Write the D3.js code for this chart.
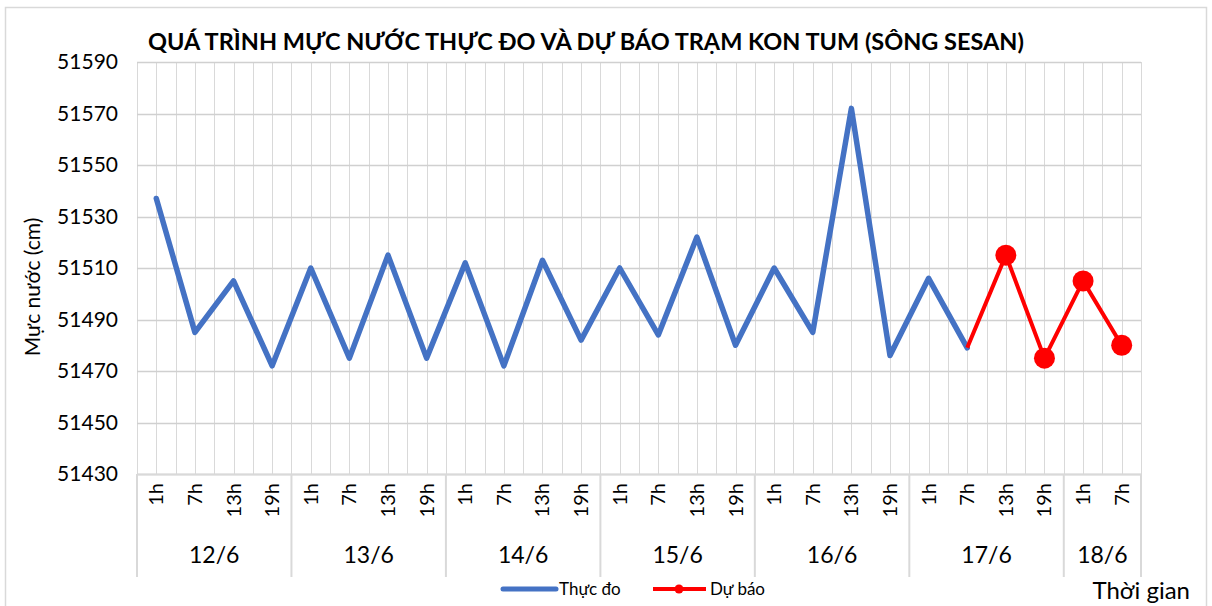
<!DOCTYPE html>
<html>
<head>
<meta charset="utf-8">
<script src="https://cdn.jsdelivr.net/npm/d3@7"></script>
<style>
  body { margin: 0; background: #fff; }
  svg text { font-family: Lato, "Noto Sans", sans-serif; fill: #000; }
</style>
</head>
<body>
<div id="chart"></div>
<script>
var w = 1212,
    h = 606;

// data
var days = ["12/6", "13/6", "14/6", "15/6", "16/6", "17/6", "18/6"];
var hours = ["1h", "7h", "13h", "19h"];
var hoursPerDay = [4, 4, 4, 4, 4, 4, 2];
var observed = [51537, 51485, 51505, 51472, 51510, 51475, 51515, 51475,
                51512, 51472, 51513, 51482, 51510, 51484, 51522, 51480,
                51510, 51485, 51572, 51476, 51506, 51479];
var forecast = [null, null, null, null, null, null, null, null,
                null, null, null, null, null, null, null, null,
                null, null, null, null, null, 51479, 51515, 51475, 51505, 51480];
var yTicks = [51430, 51450, 51470, 51490, 51510, 51530, 51550, 51570, 51590];

// category list: one entry per time slot
var cats = [];
days.forEach(function(d, i) {
  for (var j = 0; j < hoursPerDay[i]; ++j) cats.push({ day: d, hour: hours[j], key: d + " " + hours[j] });
});

var pLeft = 137, pRight = 1141, pTop = 62, pBottom = 474;

var x = d3.scaleBand()
    .domain(cats.map(function(c) { return c.key; }))
    .range([pLeft, pRight]);

var y = d3.scaleLinear()
    .domain([51430, 51590])
    .range([pBottom, pTop]);

var cx = function(i) { return x(cats[i].key) + x.bandwidth() / 2; };

var svg = d3.select("#chart").append("svg")
    .attr("width", w)
    .attr("height", h);

// outer chart border
svg.append("rect")
    .attr("x", 5.5).attr("y", 7.5)
    .attr("width", 1201).attr("height", 610)
    .attr("fill", "none").attr("stroke", "#d9d9d9").attr("stroke-width", 1.5);

// vertical gridlines (major at band edges, minor at centres)
var vx = [];
cats.forEach(function(c, i) { vx.push(x(c.key)); vx.push(cx(i)); });
vx.push(pRight);
svg.append("g").selectAll("line")
    .data(vx)
  .enter().append("line")
    .attr("x1", function(d) { return Math.round(d) + 0.5; })
    .attr("x2", function(d) { return Math.round(d) + 0.5; })
    .attr("y1", pTop).attr("y2", pBottom)
    .attr("stroke", "#d9d9d9").attr("stroke-width", 1);

// horizontal gridlines
svg.append("g").selectAll("line")
    .data(yTicks)
  .enter().append("line")
    .attr("x1", pLeft).attr("x2", pRight)
    .attr("y1", function(d) { return Math.round(y(d)) + 0.5; })
    .attr("y2", function(d) { return Math.round(y(d)) + 0.5; })
    .attr("stroke", "#d0d0d0").attr("stroke-width", 1.3);

// y axis labels
var yAxis = d3.axisLeft(y).tickValues(yTicks).tickSize(0).tickPadding(19).tickFormat(d3.format("d"));
var ga = svg.append("g").attr("transform", "translate(" + pLeft + ",0)").call(yAxis);
ga.select(".domain").remove();
ga.selectAll("text")
    .attr("font-size", 21)
    .attr("font-family", "Lato, sans-serif")
    .attr("fill", "#000");

// x axis: rotated hour labels
svg.append("g").selectAll("text")
    .data(cats)
  .enter().append("text")
    .attr("transform", function(d, i) { return "translate(" + (cx(i) + 7) + ",483)rotate(-90)"; })
    .attr("text-anchor", "end")
    .attr("font-size", 20)
    .text(function(d) { return d.hour; });

// day group separators and labels
var starts = [0];
hoursPerDay.forEach(function(n, i) { starts.push(starts[i] + n); });
svg.append("g").selectAll("line")
    .data(starts)
  .enter().append("line")
    .attr("x1", function(d) { return d < cats.length ? x(cats[d].key) : pRight; })
    .attr("x2", function(d) { return d < cats.length ? x(cats[d].key) : pRight; })
    .attr("y1", pBottom).attr("y2", 577)
    .attr("stroke", "#d9d9d9").attr("stroke-width", 2);

svg.append("line")
    .attr("x1", pLeft).attr("x2", pRight)
    .attr("y1", pBottom + 0.5).attr("y2", pBottom + 0.5)
    .attr("stroke", "#d9d9d9").attr("stroke-width", 2);

svg.append("g").selectAll("text")
    .data(days)
  .enter().append("text")
    .attr("x", function(d, i) {
      var a = x(cats[starts[i]].key), b = starts[i + 1] < cats.length ? x(cats[starts[i + 1]].key) : pRight;
      return (a + b) / 2;
    })
    .attr("y", 563)
    .attr("text-anchor", "middle")
    .attr("font-size", 23)
    .text(function(d) { return d; });

// lines
var line = d3.line()
    .defined(function(d) { return d != null; })
    .x(function(d, i) { return cx(i); })
    .y(function(d) { return y(d); });

svg.append("path")
    .datum(observed)
    .attr("d", line)
    .attr("fill", "none")
    .attr("stroke", "#4472C4")
    .attr("stroke-width", 5.5)
    .attr("stroke-linejoin", "round")
    .attr("stroke-linecap", "round");

svg.append("path")
    .datum(forecast)
    .attr("d", line)
    .attr("fill", "none")
    .attr("stroke", "#FF0000")
    .attr("stroke-width", 4)
    .attr("stroke-linejoin", "round");

svg.append("g").selectAll("circle")
    .data(forecast.map(function(v, i) { return { v: v, i: i }; })
      .filter(function(d) { return d.v != null && d.i > 21; }))
  .enter().append("circle")
    .attr("cx", function(d) { return cx(d.i); })
    .attr("cy", function(d) { return y(d.v); })
    .attr("r", 10.5)
    .attr("fill", "#FF0000");

// title
svg.append("text")
    .attr("x", 586).attr("y", 50)
    .attr("text-anchor", "middle")
    .attr("font-size", 23.5)
    .attr("font-weight", "bold")
    .text("QUÁ TRÌNH MỰC NƯỚC THỰC ĐO VÀ DỰ BÁO TRẠM KON TUM (SÔNG SESAN)");

// y axis title
svg.append("text")
    .attr("transform", "translate(40,287)rotate(-90)")
    .attr("text-anchor", "middle")
    .attr("font-size", 21)
    .text("Mực nước (cm)");

// x axis title
svg.append("text")
    .attr("x", 1190).attr("y", 599)
    .attr("text-anchor", "end")
    .attr("font-size", 24)
    .text("Thời gian");

// legend
var legend = svg.append("g").attr("transform", "translate(0,589)");
legend.append("line")
    .attr("x1", 503).attr("x2", 556).attr("y1", 0).attr("y2", 0)
    .attr("stroke", "#4472C4").attr("stroke-width", 5).attr("stroke-linecap", "round");
legend.append("text").attr("x", 559).attr("y", 6).attr("font-size", 17).text("Thực đo");
legend.append("line")
    .attr("x1", 653).attr("x2", 706).attr("y1", 0).attr("y2", 0)
    .attr("stroke", "#FF0000").attr("stroke-width", 4);
legend.append("circle").attr("cx", 679).attr("cy", 0).attr("r", 4.5).attr("fill", "#FF0000");
legend.append("text").attr("x", 710).attr("y", 6).attr("font-size", 17).text("Dự báo");
</script>
</body>
</html>
